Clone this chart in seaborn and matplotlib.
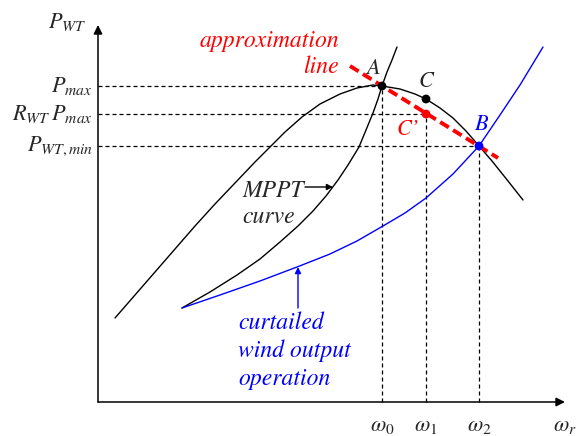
import matplotlib
matplotlib.use("Agg")
import matplotlib.pyplot as plt
import seaborn as sns
import pandas as pd

# Turbine power vs rotor speed (arbitrary units)
power_w = [0.17, 0.37, 0.57, 0.77, 0.97, 1.17, 1.37, 1.57, 1.72, 1.87, 2.04, 2.22, 2.42,
           2.59, 2.75, 2.84, 3.02, 3.17, 3.28, 3.42, 3.55, 3.68, 3.81, 3.94, 4.10, 4.25]
power_p = [0.84, 1.07, 1.30, 1.53, 1.76, 1.98, 2.19, 2.40, 2.55, 2.70, 2.85, 2.98, 3.08,
           3.14, 3.17, 3.16, 3.13, 3.08, 3.03, 2.94, 2.84, 2.71, 2.56, 2.41, 2.21, 2.02]

# MPPT curve
mppt_w = [0.84, 1.12, 1.39, 1.62, 1.82, 2.00, 2.15, 2.28, 2.40, 2.50, 2.61, 2.68, 2.75,
          2.80, 2.84, 2.89, 2.94, 2.99]
mppt_p = [0.94, 1.10, 1.27, 1.43, 1.60, 1.76, 1.91, 2.06, 2.22, 2.37, 2.55, 2.72, 2.89,
          3.03, 3.16, 3.30, 3.42, 3.55]

# Curtailed wind output operation curve
curt_w = [0.84, 1.22, 1.62, 1.99, 2.32, 2.59, 2.85, 3.07, 3.28, 3.55, 3.81, 4.02, 4.22, 4.45]
curt_p = [0.94, 1.07, 1.21, 1.35, 1.48, 1.61, 1.76, 1.89, 2.04, 2.28, 2.56, 2.87, 3.17, 3.55]

# Approximation line through A and B
approx_w = [2.52, 4.00]
approx_p = [3.36, 2.44]

# Operating points
omega_0, omega_1, omega_2 = 2.84, 3.28, 3.81
p_max, p_c, p_ref, p_min = 3.16, 3.03, 2.88, 2.56

y_levels = [p_max, p_ref, p_min]
y_labels = [r"$P_{max}$", r"$R_{WT}\,P_{max}$", r"$P_{WT,min}$"]
x_levels = [omega_0, omega_1, omega_2]
x_labels = [r"$\omega_{\mathit{0}}$", r"$\omega_{\mathit{1}}$", r"$\omega_{\mathit{2}}$"]

sns.set_style("white")
plt.rcParams["mathtext.fontset"] = "stix"
plt.rcParams["font.family"] = ["STIXGeneral", "DejaVu Serif"]

RED = "#ff0000"
BLUE = "#0000ff"

fig = plt.figure(figsize=(5.85, 4.36), dpi=100)
ax = fig.add_axes([0, 0, 1, 1])
ax.set_xlim(-0.98, 4.87)
ax.set_ylim(-0.34, 4.02)
ax.axis("off")

# Axes with arrow heads
arrow = dict(arrowstyle="-|>", lw=1.1, color="black", mutation_scale=13,
             shrinkA=0, shrinkB=0)
ax.annotate("", xy=(4.67, 0), xytext=(0, 0), arrowprops=arrow)
ax.annotate("", xy=(0, 3.77), xytext=(0, 0), arrowprops=arrow)

# Dashed guides from the points to both axes
dash = dict(color="black", lw=0.9, ls=(0, (3.2, 2.4)))
for w, p in zip(x_levels, y_levels):
    ax.plot([0, w], [p, p], **dash, zorder=1)
    ax.plot([w, w], [0, p], **dash, zorder=1)

curves = pd.concat([
    pd.DataFrame({"w": power_w, "p": power_p, "curve": "power"}),
    pd.DataFrame({"w": mppt_w, "p": mppt_p, "curve": "mppt"}),
    pd.DataFrame({"w": curt_w, "p": curt_p, "curve": "curtailed"}),
])
sns.lineplot(data=curves, x="w", y="p", hue="curve", sort=False, estimator=None,
             palette={"power": "black", "mppt": "black", "curtailed": BLUE},
             lw=1.0, legend=False, ax=ax, zorder=2)

sns.lineplot(x=approx_w, y=approx_p, color=RED, lw=2.8, ax=ax, zorder=3,
             dashes=False, solid_capstyle="butt").lines[-1].set_linestyle((0, (2.6, 1.3)))

pts = pd.DataFrame({
    "w": [omega_0, omega_1, omega_1, omega_2],
    "p": [p_max, p_c, p_ref, p_min],
    "name": ["A", "C", "C'", "B"],
})
sns.scatterplot(data=pts, x="w", y="p", hue="name",
                palette={"A": "black", "C": "black", "C'": RED, "B": BLUE},
                s=40, edgecolor="none", legend=False, ax=ax, zorder=4)

# Axis labels
ax.text(-0.31, 3.80, r"$P_{WT}$", fontsize=16, ha="center", va="center")
ax.text(4.67, -0.24, r"$\omega_r$", fontsize=16, ha="center", va="center")
for p, lab in zip(y_levels, y_labels):
    ax.text(-0.05, p, lab, fontsize=16, ha="right", va="center")
for w, lab in zip(x_levels, x_labels):
    ax.text(w, -0.24, lab, fontsize=16, ha="center", va="center")

# Point labels
it = dict(fontsize=16, style="italic")
ax.text(2.75, 3.275, "A", ha="center", va="baseline", **it)
ax.text(3.28, 3.15, "C", ha="center", va="baseline", **it)
ax.text(3.10, 2.67, "C\u2019", ha="center", va="baseline", color=RED, **it)
ax.text(3.825, 2.72, "B", ha="center", va="baseline", color=BLUE, **it)

# Annotations
big = dict(fontsize=17, style="italic")
ax.text(1.02, 3.55, "approximation", ha="left", va="baseline", color=RED, **big)
ax.text(2.41, 3.29, "line", ha="right", va="baseline", color=RED, **big)

ax.text(1.44, 2.05, "MPPT", ha="left", va="baseline", **big)
ax.text(1.44, 1.79, "curve", ha="left", va="baseline", **big)
ax.annotate("", xy=(2.35, 2.15), xytext=(2.07, 2.15),
            arrowprops=dict(arrowstyle="-|>", lw=1.0, color="black",
                            mutation_scale=9, shrinkA=0, shrinkB=0))

for y, line in zip([0.73, 0.45, 0.17], ["curtailed", "wind output", "operation"]):
    ax.text(1.40, y, line, ha="left", va="baseline", color=BLUE, **big)
ax.annotate("", xy=(2.00, 1.35), xytext=(2.00, 0.94),
            arrowprops=dict(arrowstyle="-|>", lw=1.0, color=BLUE,
                            mutation_scale=9, shrinkA=0, shrinkB=0))

fig.savefig("out.png", dpi=100)
